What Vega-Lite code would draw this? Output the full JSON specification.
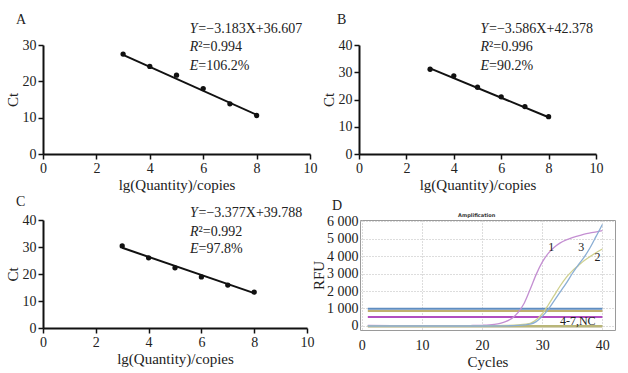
{
  "$schema": "https://vega.github.io/schema/vega-lite/v6.json",
  "padding": {"left": 5, "top": 12, "right": 5, "bottom": 5},
  "background": "white",
  "config": {
    "font": "Liberation Serif",
    "view": {"stroke": null},
    "axis": {
      "labelFont": "Liberation Serif", "titleFont": "Liberation Serif",
      "labelFontSize": 14, "titleFontSize": 15, "titleFontWeight": "normal",
      "labelColor": "#222", "titleColor": "#222", "labelOverlap": false, "labelFlush": false,
      "domainColor": "#111", "tickColor": "#111", "domainWidth": 2, "tickCount": 20, "format": "d",
      "tickWidth": 1.5, "tickSize": 5, "grid": false, "labelPadding": 2, "titlePadding": 2
    },
    "title": {"font": "Liberation Serif", "fontSize": 14, "fontWeight": "normal", "anchor": "start", "color": "#222", "frame": "group"}
  },
  "datasets": {
    "std": [
      {"panel": "A", "lg": 3, "ct": 27.5}, {"panel": "A", "lg": 4, "ct": 24.1}, {"panel": "A", "lg": 5, "ct": 21.7},
      {"panel": "A", "lg": 6, "ct": 18.0}, {"panel": "A", "lg": 7, "ct": 13.8}, {"panel": "A", "lg": 8, "ct": 10.6},
      {"panel": "B", "lg": 3, "ct": 31.1}, {"panel": "B", "lg": 4, "ct": 28.7}, {"panel": "B", "lg": 5, "ct": 24.5},
      {"panel": "B", "lg": 6, "ct": 21.0}, {"panel": "B", "lg": 7, "ct": 17.4}, {"panel": "B", "lg": 8, "ct": 13.7},
      {"panel": "C", "lg": 3, "ct": 30.4}, {"panel": "C", "lg": 4, "ct": 26.0}, {"panel": "C", "lg": 5, "ct": 22.3},
      {"panel": "C", "lg": 6, "ct": 18.9}, {"panel": "C", "lg": 7, "ct": 15.9}, {"panel": "C", "lg": 8, "ct": 13.3}
    ],
    "fit": [
      {"panel": "A", "lg": 3, "ct": 27.3}, {"panel": "A", "lg": 8, "ct": 10.8},
      {"panel": "B", "lg": 3, "ct": 31.4}, {"panel": "B", "lg": 8, "ct": 13.5},
      {"panel": "C", "lg": 3, "ct": 29.7}, {"panel": "C", "lg": 8, "ct": 12.9}
    ],
    "eq": [
      {"panel": "A", "lg": 5.5, "ct": 34.4, "it": "Y", "rest": "=\u22123.183X+36.607"},
      {"panel": "A", "lg": 5.5, "ct": 29.5, "it": "R", "rest": "\u00b2=0.994"},
      {"panel": "A", "lg": 5.5, "ct": 24.2, "it": "E", "rest": "=106.2%"},
      {"panel": "B", "lg": 5.13, "ct": 45.9, "it": "Y", "rest": "=\u22123.586X+42.378"},
      {"panel": "B", "lg": 5.13, "ct": 39.3, "it": "R", "rest": "\u00b2=0.996"},
      {"panel": "B", "lg": 5.13, "ct": 32.3, "it": "E", "rest": "=90.2%"},
      {"panel": "C", "lg": 5.57, "ct": 42.7, "it": "Y", "rest": "=\u22123.377X+39.788"},
      {"panel": "C", "lg": 5.57, "ct": 35.6, "it": "R", "rest": "\u00b2=0.992"},
      {"panel": "C", "lg": 5.57, "ct": 29.1, "it": "E", "rest": "=97.8%"}
    ],
    "flat": [
      {"series": "t1", "cycle": 1, "rfu": 990}, {"series": "t1", "cycle": 40, "rfu": 990},
      {"series": "t2", "cycle": 1, "rfu": 860}, {"series": "t2", "cycle": 40, "rfu": 860},
      {"series": "t3", "cycle": 1, "rfu": 514}, {"series": "t3", "cycle": 40, "rfu": 514},
      {"series": "n2", "cycle": 1, "rfu": -40}, {"series": "n2", "cycle": 40, "rfu": -40},
      {"series": "n1", "cycle": 1, "rfu": 0}, {"series": "n1", "cycle": 40, "rfu": 0}
    ],
    "amp": [
      {"series": "1", "cycle": 1, "rfu": 30}, {"series": "1", "cycle": 5, "rfu": 20}, {"series": "1", "cycle": 10, "rfu": 15},
      {"series": "1", "cycle": 15, "rfu": 15}, {"series": "1", "cycle": 18, "rfu": 25}, {"series": "1", "cycle": 20, "rfu": 40},
      {"series": "1", "cycle": 22, "rfu": 90}, {"series": "1", "cycle": 23, "rfu": 150}, {"series": "1", "cycle": 24, "rfu": 260},
      {"series": "1", "cycle": 25, "rfu": 450}, {"series": "1", "cycle": 26, "rfu": 780}, {"series": "1", "cycle": 27, "rfu": 1300},
      {"series": "1", "cycle": 28, "rfu": 2100}, {"series": "1", "cycle": 29, "rfu": 2950}, {"series": "1", "cycle": 30, "rfu": 3650},
      {"series": "1", "cycle": 31, "rfu": 4150}, {"series": "1", "cycle": 32, "rfu": 4500}, {"series": "1", "cycle": 33, "rfu": 4750},
      {"series": "1", "cycle": 34, "rfu": 4920}, {"series": "1", "cycle": 35, "rfu": 5050}, {"series": "1", "cycle": 36, "rfu": 5150},
      {"series": "1", "cycle": 37, "rfu": 5250}, {"series": "1", "cycle": 38, "rfu": 5320}, {"series": "1", "cycle": 39, "rfu": 5380},
      {"series": "1", "cycle": 40, "rfu": 5450},
      {"series": "2", "cycle": 1, "rfu": 0}, {"series": "2", "cycle": 10, "rfu": 0}, {"series": "2", "cycle": 20, "rfu": 10},
      {"series": "2", "cycle": 24, "rfu": 30}, {"series": "2", "cycle": 26, "rfu": 60}, {"series": "2", "cycle": 28, "rfu": 150},
      {"series": "2", "cycle": 29, "rfu": 350}, {"series": "2", "cycle": 30, "rfu": 700}, {"series": "2", "cycle": 31, "rfu": 1200},
      {"series": "2", "cycle": 32, "rfu": 1750}, {"series": "2", "cycle": 33, "rfu": 2300}, {"series": "2", "cycle": 34, "rfu": 2780},
      {"series": "2", "cycle": 35, "rfu": 3150}, {"series": "2", "cycle": 36, "rfu": 3450}, {"series": "2", "cycle": 37, "rfu": 3750},
      {"series": "2", "cycle": 38, "rfu": 3980}, {"series": "2", "cycle": 39, "rfu": 4200}, {"series": "2", "cycle": 40, "rfu": 4400},
      {"series": "3", "cycle": 1, "rfu": 0}, {"series": "3", "cycle": 10, "rfu": 0}, {"series": "3", "cycle": 20, "rfu": 0},
      {"series": "3", "cycle": 24, "rfu": 10}, {"series": "3", "cycle": 26, "rfu": 30}, {"series": "3", "cycle": 28, "rfu": 100},
      {"series": "3", "cycle": 29, "rfu": 250}, {"series": "3", "cycle": 30, "rfu": 550}, {"series": "3", "cycle": 31, "rfu": 950},
      {"series": "3", "cycle": 32, "rfu": 1450}, {"series": "3", "cycle": 33, "rfu": 1950}, {"series": "3", "cycle": 34, "rfu": 2450},
      {"series": "3", "cycle": 35, "rfu": 3000}, {"series": "3", "cycle": 36, "rfu": 3500}, {"series": "3", "cycle": 37, "rfu": 3950},
      {"series": "3", "cycle": 38, "rfu": 4500}, {"series": "3", "cycle": 39, "rfu": 5150}, {"series": "3", "cycle": 40, "rfu": 5800}
    ],
    "ampText": [
      {"label": "1", "cycle": 31.5, "rfu": 4500},
      {"label": "3", "cycle": 36.5, "rfu": 4500},
      {"label": "2", "cycle": 39.2, "rfu": 3940},
      {"label": "4-7,NC", "cycle": 35.9, "rfu": 300}
    ],
    "ampTitle": [
      {"label": "Amplification", "cycle": 19.1, "rfu": 6360}
    ]
  },
  "vconcat": [
    {
      "hconcat": [
        {
          "title": {"text": "A", "dx": -27, "offset": -5},
          "width": 267, "height": 109,
          "layer": [
            {"data": {"name": "fit"}, "transform": [{"filter": "datum.panel === 'A'"}],
             "mark": {"type": "line", "color": "#111", "strokeWidth": 2},
             "encoding": {
               "x": {"field": "lg", "type": "quantitative", "scale": {"domain": [0, 10], "nice": false}, "axis": {"values": [0, 2, 4, 6, 8, 10], "title": "lg(Quantity)/copies"}},
               "y": {"field": "ct", "type": "quantitative", "scale": {"domain": [0, 30], "nice": false}, "axis": {"values": [0, 10, 20, 30], "title": "Ct"}}
             }},
            {"data": {"name": "std"}, "transform": [{"filter": "datum.panel === 'A'"}],
             "mark": {"type": "circle", "color": "#111", "size": 28, "opacity": 1},
             "encoding": {"x": {"field": "lg", "type": "quantitative"}, "y": {"field": "ct", "type": "quantitative"}}},
            {"data": {"name": "eq"}, "transform": [{"filter": "datum.panel === 'A'"}],
             "mark": {"type": "text", "align": "left", "baseline": "middle", "fontSize": 14, "fontStyle": "italic", "color": "#222"},
             "encoding": {"x": {"field": "lg", "type": "quantitative"}, "y": {"field": "ct", "type": "quantitative"}, "text": {"field": "it"}}},
            {"data": {"name": "eq"}, "transform": [{"filter": "datum.panel === 'A'"}],
             "mark": {"type": "text", "align": "left", "baseline": "middle", "fontSize": 14, "dx": 8.5, "color": "#222"},
             "encoding": {"x": {"field": "lg", "type": "quantitative"}, "y": {"field": "ct", "type": "quantitative"}, "text": {"field": "rest"}}}
          ]
        },
        {
          "title": {"text": "B", "dx": -22, "offset": -5},
          "width": 237, "height": 109,
          "layer": [
            {"data": {"name": "fit"}, "transform": [{"filter": "datum.panel === 'B'"}],
             "mark": {"type": "line", "color": "#111", "strokeWidth": 2},
             "encoding": {
               "x": {"field": "lg", "type": "quantitative", "scale": {"domain": [0, 10], "nice": false}, "axis": {"values": [0, 2, 4, 6, 8, 10], "title": "lg(Quantity)/copies"}},
               "y": {"field": "ct", "type": "quantitative", "scale": {"domain": [0, 40], "nice": false}, "axis": {"values": [0, 10, 20, 30, 40], "title": "Ct"}}
             }},
            {"data": {"name": "std"}, "transform": [{"filter": "datum.panel === 'B'"}],
             "mark": {"type": "circle", "color": "#111", "size": 28, "opacity": 1},
             "encoding": {"x": {"field": "lg", "type": "quantitative"}, "y": {"field": "ct", "type": "quantitative"}}},
            {"data": {"name": "eq"}, "transform": [{"filter": "datum.panel === 'B'"}],
             "mark": {"type": "text", "align": "left", "baseline": "middle", "fontSize": 14, "fontStyle": "italic", "color": "#222"},
             "encoding": {"x": {"field": "lg", "type": "quantitative"}, "y": {"field": "ct", "type": "quantitative"}, "text": {"field": "it"}}},
            {"data": {"name": "eq"}, "transform": [{"filter": "datum.panel === 'B'"}],
             "mark": {"type": "text", "align": "left", "baseline": "middle", "fontSize": 14, "dx": 8.5, "color": "#222"},
             "encoding": {"x": {"field": "lg", "type": "quantitative"}, "y": {"field": "ct", "type": "quantitative"}, "text": {"field": "rest"}}}
          ]
        }
      ],
      "spacing": 4
    },
    {
      "hconcat": [
        {
          "title": {"text": "C", "dx": -27, "offset": -3},
          "width": 264, "height": 108,
          "layer": [
            {"data": {"name": "fit"}, "transform": [{"filter": "datum.panel === 'C'"}],
             "mark": {"type": "line", "color": "#111", "strokeWidth": 2},
             "encoding": {
               "x": {"field": "lg", "type": "quantitative", "scale": {"domain": [0, 10], "nice": false}, "axis": {"values": [0, 2, 4, 6, 8, 10], "title": "lg(Quantity)/copies"}},
               "y": {"field": "ct", "type": "quantitative", "scale": {"domain": [0, 40], "nice": false}, "axis": {"values": [0, 10, 20, 30, 40], "title": "Ct"}}
             }},
            {"data": {"name": "std"}, "transform": [{"filter": "datum.panel === 'C'"}],
             "mark": {"type": "circle", "color": "#111", "size": 28, "opacity": 1},
             "encoding": {"x": {"field": "lg", "type": "quantitative"}, "y": {"field": "ct", "type": "quantitative"}}},
            {"data": {"name": "eq"}, "transform": [{"filter": "datum.panel === 'C'"}],
             "mark": {"type": "text", "align": "left", "baseline": "middle", "fontSize": 14, "fontStyle": "italic", "color": "#222"},
             "encoding": {"x": {"field": "lg", "type": "quantitative"}, "y": {"field": "ct", "type": "quantitative"}, "text": {"field": "it"}}},
            {"data": {"name": "eq"}, "transform": [{"filter": "datum.panel === 'C'"}],
             "mark": {"type": "text", "align": "left", "baseline": "middle", "fontSize": 14, "dx": 8.5, "color": "#222"},
             "encoding": {"x": {"field": "lg", "type": "quantitative"}, "y": {"field": "ct", "type": "quantitative"}, "text": {"field": "rest"}}}
          ]
        },
        {
          "title": {"text": "D", "dx": -28, "offset": 0},
          "width": 255, "height": 110,
          "view": {"stroke": "#9a9a9a", "strokeWidth": 1},
          "layer": [
            {"data": {"name": "flat"},
             "mark": {"type": "line", "strokeWidth": 2},
             "encoding": {
               "x": {"field": "cycle", "type": "quantitative", "scale": {"domain": [-0.3, 42.1], "nice": false},
                     "axis": {"values": [0, 10, 20, 30, 40], "title": "Cycles", "domain": false, "ticks": false, "labelPadding": 8, "grid": true, "gridDash": [1, 2], "gridColor": "#bbbbbb"}},
               "y": {"field": "rfu", "type": "quantitative", "scale": {"domain": [-230, 6060], "nice": false},
                     "axis": {"values": [0, 1000, 2000, 3000, 4000, 5000, 6000], "title": "RFU", "domain": false, "ticks": false, "labelPadding": 2, "titlePadding": 0,
                              "labelExpr": "replace(format(datum.value, ','), ',', ' ')", "grid": true, "gridDash": [1, 2], "gridColor": "#bbbbbb"}},
               "color": {"field": "series", "type": "nominal", "legend": null,
                         "scale": {"domain": ["1", "2", "3", "t1", "t2", "t3", "n1", "n2"],
                                   "range": ["#c48fd2", "#cfd08e", "#8aaed4", "#5f8dc0", "#c2b06e", "#b24fc0", "#b9b679", "#c9c4a0"]}},
               "detail": {"field": "series"}
             }},
            {"data": {"name": "amp"},
             "mark": {"type": "line", "strokeWidth": 1.3, "interpolate": "monotone"},
             "encoding": {
               "x": {"field": "cycle", "type": "quantitative"},
               "y": {"field": "rfu", "type": "quantitative"},
               "color": {"field": "series", "type": "nominal", "legend": null}
             }},
            {"data": {"name": "ampText"},
             "mark": {"type": "text", "fontSize": 12, "color": "#222", "baseline": "middle", "align": "center"},
             "encoding": {"x": {"field": "cycle", "type": "quantitative"}, "y": {"field": "rfu", "type": "quantitative"}, "text": {"field": "label"}}},
            {"data": {"name": "ampTitle"},
             "mark": {"type": "text", "fontSize": 5, "font": "DejaVu Sans", "fontWeight": "bold", "color": "#333", "baseline": "middle", "align": "center"},
             "encoding": {"x": {"field": "cycle", "type": "quantitative"}, "y": {"field": "rfu", "type": "quantitative"}, "text": {"field": "label"}}}
          ]
        }
      ],
      "spacing": -3
    }
  ],
  "spacing": 2
}
